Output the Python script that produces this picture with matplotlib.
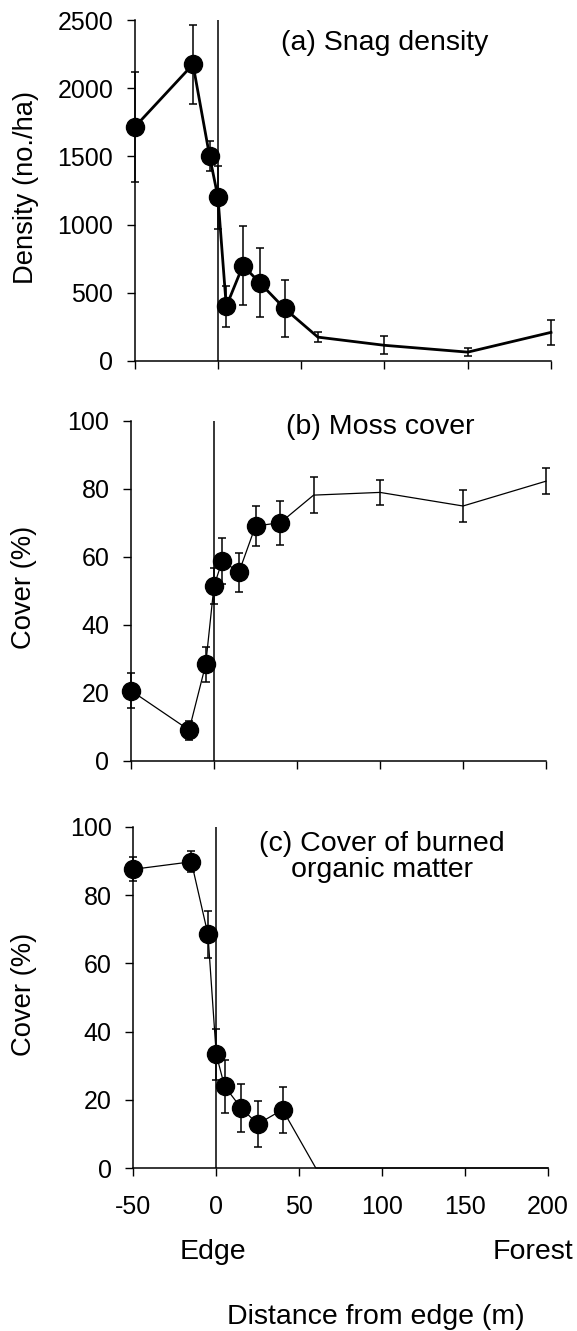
import numpy as np
import matplotlib
matplotlib.use("Agg")
import matplotlib.pyplot as plt

plt.rcParams['font.family'] = ['Liberation Sans', 'DejaVu Sans']
plt.rcParams['axes.unicode_minus'] = False

# distance from edge (m); negative = burned side
dist = [-50, -15, -5, 0, 5, 15, 25, 40, 60, 100, 150, 200]
n_marked = 8  # only the first points carry a filled marker

snag = [1715, 2175, 1500, 1200, 400, 700, 575, 385, 175, 115, 65, 210]
snag_err = [405, 288, 110, 233, 152, 287, 253, 207, 39, 67, 27, 90]

moss = [20.7, 9.1, 28.4, 51.5, 58.9, 55.5, 69.1, 70.1, 78.2, 79.0, 75.0, 82.3]
moss_err = [5.1, 2.8, 5.2, 5.3, 6.7, 5.8, 6.0, 6.5, 5.4, 3.6, 4.6, 3.9]

burned = [87.6, 89.8, 68.5, 33.3, 24.0, 17.6, 12.9, 17.1, 0, 0, 0, 0]
burned_err = [3.5, 3.1, 7.0, 7.4, 7.8, 7.1, 6.7, 6.7, 0, 0, 0, 0]

xticks = [-50, 0, 50, 100, 150, 200]

W, H = 577, 1331
fig = plt.figure(figsize=(W / 100, H / 100), dpi=100)


def px_axes(left, right, top, bottom):
    return fig.add_axes([left / W, 1 - bottom / H, (right - left) / W, (bottom - top) / H])


def panel(ax, y, yerr, lw, ymax, yticks, ylabel, title, title_y, label_x, show_x):
    x = np.array(dist)
    y = np.array(y)
    yerr = np.array(yerr)
    ax.axvline(0, color='black', lw=1.1, zorder=1)
    ax.plot(x, y, color='black', lw=lw, zorder=2, clip_on=False)
    has_err = yerr > 0
    ax.errorbar(x[has_err], y[has_err], yerr=yerr[has_err], fmt='none', ecolor='black',
                elinewidth=1.1, capsize=2.6, capthick=1.1, zorder=3, clip_on=False)
    ax.plot(x[:n_marked], y[:n_marked], 'o', color='black', ms=13, zorder=4, clip_on=False)

    ax.set_xlim(-50, 200)
    ax.set_ylim(0, ymax)
    ax.set_xticks(xticks)
    ax.set_yticks(yticks)
    for s in ['top', 'right']:
        ax.spines[s].set_visible(False)
    for s in ['left', 'bottom']:
        ax.spines[s].set_linewidth(1.1)
    ax.tick_params(direction='out', length=5.5, width=1.0, labelsize=18, pad=10)
    ax.tick_params(axis='x', pad=14)
    if not show_x:
        ax.set_xticklabels([])
    ax.set_ylabel(ylabel, fontsize=19.7)
    ax.yaxis.set_label_coords(label_x, 0.51)
    ax.text(100, ymax * title_y, title, ha='center', va='center', fontsize=20.5,
            linespacing=1.0)


ax1 = px_axes(134.7, 551, 20, 361)
panel(ax1, snag, snag_err, 2.0, 2500, [0, 500, 1000, 1500, 2000, 2500],
      'Density (no./ha)', '(a) Snag density', 0.933, -0.23, False)

ax2 = px_axes(131, 546, 421, 761)
panel(ax2, moss, moss_err, 0.9, 100, [0, 20, 40, 60, 80, 100],
      'Cover (%)', '(b) Moss cover', 0.982, -0.227, False)

ax3 = px_axes(133.3, 548, 827, 1168)
panel(ax3, burned, burned_err, 0.9, 100, [0, 20, 40, 60, 80, 100],
      'Cover (%)', '(c) Cover of burned\norganic matter', 0.913, -0.232, True)

fig.text(213 / W, 1 - 1252 / H, 'Edge', ha='center', va='center', fontsize=20.5)
fig.text(573 / W, 1 - 1252 / H, 'Forest', ha='right', va='center', fontsize=20.5)
fig.text(376 / W, 1 - 1317 / H, 'Distance from edge (m)', ha='center', va='center', fontsize=20.5)

fig.savefig('out.png', dpi=100)
